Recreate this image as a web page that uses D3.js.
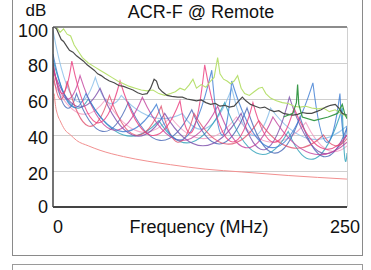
<!DOCTYPE html>
<html>
<head>
<meta charset="utf-8">
<script src="https://cdn.jsdelivr.net/npm/d3@7"></script>
<style>
  body { margin: 0; background: #fff; }
  text { font-family: "Liberation Sans", Arial, sans-serif; fill: #111; }
</style>
</head>
<body>
<script>
const w = 371;
const h = 270;

// axis ticks
const yTicks = [0, 20, 40, 60, 80, 100];
const xTickLabels = ["0", "250"];

// limit line (red)
const limitLine = [[1, 63], [2, 57], [4, 51], [6, 48], [10, 43], [15, 40], [20, 37], [30, 34],
  [40, 31.5], [60, 28], [80, 25.5], [100, 23.5], [130, 21], [160, 19.5], [200, 17.5], [250, 15.5]];

// upper noisy pair (black and light green)
const blackLine = [[1, 100], [3, 99], [5, 96], [7, 93], [9, 92], [12, 89], [14, 87], [17, 86], [20, 84],
  [23, 82.5], [26, 81], [29, 79], [32, 77.5], [35, 76], [38, 74], [41, 73], [44, 71.5], [48, 70],
  [52, 69], [56, 67.5], [60, 67], [64, 66], [68, 65], [72, 63.5], [76, 62.5], [80, 63], [83, 66],
  [86, 71], [88, 70], [90, 66], [93, 64], [97, 62], [101, 61.5], [106, 61], [110, 61], [114, 60],
  [118, 59.5], [122, 59], [126, 59.5], [130, 58], [134, 57], [138, 57.5], [142, 56], [146, 56.5],
  [150, 55.5], [154, 56], [158, 59], [161, 61], [164, 59], [168, 57], [172, 56], [176, 55],
  [180, 55.5], [184, 54], [188, 53], [192, 53.5], [196, 52], [200, 51.5], [204, 51], [208, 51.5],
  [212, 52.5], [216, 52], [220, 52], [224, 53], [228, 54], [232, 55.5], [236, 56.5], [240, 57],
  [243, 55], [246, 52], [250, 51]];

const greenLine = [[3, 100], [6, 97], [9, 99], [12, 96], [15, 95], [18, 90], [22, 86], [25, 83],
  [30, 80], [35, 78], [40, 76], [45, 74], [50, 72], [55, 70], [60, 68.5], [65, 67], [70, 66],
  [75, 65], [80, 64.5], [85, 65], [90, 63], [95, 62], [100, 63], [104, 64], [108, 66], [112, 65],
  [116, 68], [119, 71], [122, 66], [126, 68], [130, 66.5], [134, 70], [137, 72], [140, 83],
  [142, 74], [145, 71], [148, 70], [151, 68.5], [154, 70], [157, 73], [160, 66], [163, 63],
  [167, 62], [171, 64], [175, 66], [178, 66.5], [181, 63], [185, 60.5], [190, 59], [195, 58],
  [200, 57.5], [205, 56], [210, 55.5], [215, 56], [220, 55], [225, 54.5], [230, 55], [235, 53],
  [240, 54], [245, 52], [250, 50]];

const darkGreenLine = [[196, 50], [204, 52], [207, 58], [208, 68], [209, 57], [212, 50], [222, 48],
  [234, 50], [242, 52], [246, 57], [248, 52], [250, 49]];

// resonant pairs: peaks [MHz, dB] and the trough dB between each two peaks
const pinkPeaks = [[0, 80], [16, 81], [57, 70], [108, 59], [129, 79], [170, 58], [205, 55], [250, 40]];
const pinkTroughs = [63, 47, 40, 42, 37, 36, 33];

const magentaPeaks = [[0, 78], [23, 73], [76, 61], [140, 56], [187, 50], [250, 36]];
const magentaTroughs = [60, 43, 37, 33, 30];

const purplePeaks = [[0, 76], [40, 66], [95, 52], [160, 52], [201, 61], [250, 40]];
const purpleTroughs = [56, 40, 34, 32, 31];

const bluePeaks = [[0, 85], [28, 63], [88, 57], [135, 76], [152, 70], [221, 69], [244, 63], [250, 45]];
const blueTroughs = [57, 42, 38, 40, 33, 36, 40];

const lightBluePeaks = [[0, 98], [36, 72], [58, 62], [110, 52], [152, 66], [185, 55], [250, 45]];
const lightBlueTroughs = [60, 58, 50, 44, 40, 38];

const tealPeaks = [[0, 82], [30, 60], [90, 48], [146, 58], [200, 42], [246, 55], [250, 30]];
const tealTroughs = [57, 40, 36, 30, 27, 28];

const redPinkPeaks = [[0, 75], [12, 70], [48, 62], [92, 56], [120, 52], [175, 48], [230, 40], [250, 38]];
const redPinkTroughs = [60, 45, 40, 36, 35, 33, 34];

const darkBluePeaks = [[0, 80], [20, 63], [64, 58], [118, 54], [165, 55], [210, 50], [250, 44]];
const darkBlueTroughs = [56, 42, 37, 35, 30, 28];

const lightPinkPeaks = [[0, 70], [45, 60], [100, 50], [156, 50], [215, 47], [250, 34]];
const lightPinkTroughs = [52, 42, 38, 36, 32];

const resonant = [
  { peaks: lightPinkPeaks, troughs: lightPinkTroughs, color: "#f29ac0" },
  { peaks: lightBluePeaks, troughs: lightBlueTroughs, color: "#86bde8" },
  { peaks: tealPeaks, troughs: tealTroughs, color: "#2b9fb8" },
  { peaks: darkBluePeaks, troughs: darkBlueTroughs, color: "#4565b5" },
  { peaks: purplePeaks, troughs: purpleTroughs, color: "#7b4caa" },
  { peaks: magentaPeaks, troughs: magentaTroughs, color: "#c2409c" },
  { peaks: redPinkPeaks, troughs: redPinkTroughs, color: "#e0506e" },
  { peaks: bluePeaks, troughs: blueTroughs, color: "#3a7ad2" },
  { peaks: pinkPeaks, troughs: pinkTroughs, color: "#ea3a7c" }
];

const svg = d3.select("body").append("svg").attr("width", w).attr("height", h);

// outer frames (scanned page boxes)
svg.append("rect").attr("x", 12.5).attr("y", -2).attr("width", 350).attr("height", 257.5)
  .attr("fill", "none").attr("stroke", "#8a8a8a").attr("stroke-width", 1);
svg.append("rect").attr("x", 12.5).attr("y", 264.5).attr("width", 350).attr("height", 20)
  .attr("fill", "none").attr("stroke", "#9a9a9a").attr("stroke-width", 1);

const plotLeft = 53, plotRight = 347, plotTop = 27, plotBottom = 207;

const xScale = d3.scaleLinear().domain([0, 250]).range([plotLeft, plotRight]);
const yScale = d3.scaleLinear().domain([0, 100]).range([plotBottom, plotTop]);

// grid
svg.append("g")
  .selectAll("line")
  .data(yTicks.filter((d) => d > 0 && d < 100))
  .enter()
  .append("line")
  .attr("x1", plotLeft).attr("x2", plotRight)
  .attr("y1", (d) => yScale(d) + 0.5).attr("y2", (d) => yScale(d) + 0.5)
  .attr("stroke", "#cfcfcf").attr("stroke-width", 1);

svg.append("line").attr("x1", plotRight + 0.5).attr("x2", plotRight + 0.5)
  .attr("y1", plotTop).attr("y2", plotBottom)
  .attr("stroke", "#d0d0d0");

svg.append("defs").append("clipPath").attr("id", "plot")
  .append("rect").attr("x", plotLeft).attr("y", plotTop)
  .attr("width", plotRight - plotLeft).attr("height", plotBottom - plotTop);

const plot = svg.append("g").attr("clip-path", "url(#plot)");

const smooth = d3.line().x((d) => xScale(d[0])).y((d) => yScale(d[1])).curve(d3.curveMonotoneX);

plot.append("path").datum(limitLine).attr("d", smooth)
  .attr("fill", "none").attr("stroke", "#f29090").attr("stroke-width", 1);

// scalloped curves: parabola between each pair of peaks, dipping to the trough
function arcPath(peaks, troughs) {
  const p = d3.path();
  p.moveTo(xScale(peaks[0][0]), yScale(peaks[0][1]));
  for (let i = 0; i < peaks.length - 1; i++) {
    const [f1, h1] = peaks[i];
    const [f2, h2] = peaks[i + 1];
    const c = 2 * troughs[i] - (h1 + h2) / 2;
    p.quadraticCurveTo(xScale((f1 + f2) / 2), yScale(c), xScale(f2), yScale(h2));
  }
  return p.toString();
}

plot.selectAll("path.res")
  .data(resonant)
  .enter()
  .append("path")
  .attr("class", "res")
  .attr("d", (d) => arcPath(d.peaks, d.troughs))
  .attr("fill", "none")
  .attr("stroke", (d) => d.color)
  .attr("stroke-width", 1.1)
  .attr("opacity", 0.8);

const jag = d3.line().x((d) => xScale(d[0])).y((d) => yScale(d[1]));
plot.append("path").datum(greenLine).attr("d", jag)
  .attr("fill", "none").attr("stroke", "#b8e070").attr("stroke-width", 1.1);
plot.append("path").datum(blackLine).attr("d", jag)
  .attr("fill", "none").attr("stroke", "#4a4a4a").attr("stroke-width", 1.2);
plot.append("path").datum(darkGreenLine).attr("d", jag)
  .attr("fill", "none").attr("stroke", "#3a9a4a").attr("stroke-width", 1.2);

// frame of plot
svg.append("line").attr("x1", plotLeft).attr("x2", plotRight).attr("y1", plotTop).attr("y2", plotTop)
  .attr("stroke", "#666").attr("stroke-width", 1.5);
svg.append("line").attr("x1", plotLeft).attr("x2", plotLeft).attr("y1", plotTop).attr("y2", plotBottom)
  .attr("stroke", "#444").attr("stroke-width", 1.5);
svg.append("line").attr("x1", plotLeft).attr("x2", plotRight).attr("y1", plotBottom).attr("y2", plotBottom)
  .attr("stroke", "#444").attr("stroke-width", 2);

// labels
svg.append("g")
  .selectAll("text")
  .data(yTicks)
  .enter()
  .append("text")
  .attr("x", 48)
  .attr("y", (d) => yScale(d) + (d === 0 ? 6 : d === 100 ? 10 : 9))
  .attr("text-anchor", "end")
  .attr("font-size", 18)
  .text((d) => d);

svg.append("text").attr("x", 36).attr("y", 16).attr("text-anchor", "middle")
  .attr("font-size", 17).text("dB");
svg.append("text").attr("x", 201).attr("y", 18).attr("text-anchor", "middle")
  .attr("font-size", 18).text("ACR-F @ Remote");

svg.append("text").attr("x", 58).attr("y", 233).attr("text-anchor", "middle")
  .attr("font-size", 18).text(xTickLabels[0]);
svg.append("text").attr("x", 360).attr("y", 233).attr("text-anchor", "end")
  .attr("font-size", 18).text(xTickLabels[1]);
svg.append("text").attr("x", 199).attr("y", 233).attr("text-anchor", "middle")
  .attr("font-size", 18).text("Frequency (MHz)");
</script>
</body>
</html>
